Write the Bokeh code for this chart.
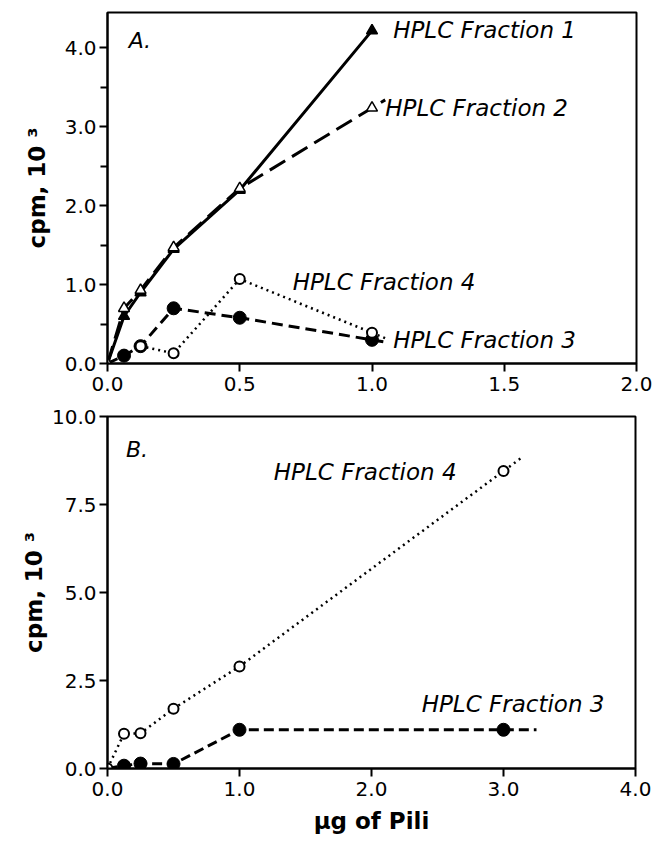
from bokeh.plotting import figure
from bokeh.layouts import column
from bokeh.models import FixedTicker, NumeralTickFormatter, Range1d
from bokeh.core.properties import value
from bokeh.embed import file_html
from bokeh.resources import INLINE

# ---- Panel A data ----
a_f1_x = [0.0, 0.0625, 0.125, 0.25, 0.5, 1.0]
a_f1_y = [0.0, 0.60, 0.90, 1.45, 2.20, 4.22]
a_f2_x = [0.0, 0.0625, 0.125, 0.25, 0.5, 1.0]
a_f2_y = [0.0, 0.70, 0.93, 1.47, 2.22, 3.24]
a_f3_x = [0.0, 0.0625, 0.125, 0.25, 0.5, 1.0]
a_f3_y = [0.0, 0.10, 0.22, 0.70, 0.58, 0.30]
a_f4_x = [0.125, 0.25, 0.5, 1.0]
a_f4_y = [0.22, 0.13, 1.07, 0.39]

# ---- Panel B data ----
b_f4_x = [0.0, 0.125, 0.25, 0.5, 1.0, 3.0]
b_f4_y = [0.0, 0.99, 1.0, 1.70, 2.90, 8.45]
b_f3_x = [0.0, 0.125, 0.25, 0.5, 1.0, 3.0]
b_f3_y = [0.0, 0.08, 0.14, 0.13, 1.10, 1.10]

a_xticks = [0.0, 0.5, 1.0, 1.5, 2.0]
a_yticks = [0.0, 1.0, 2.0, 3.0, 4.0]
a_yminor = [0.5, 1.5, 2.5, 3.5]
b_xticks = [0.0, 1.0, 2.0, 3.0, 4.0]
b_yticks = [0.0, 2.5, 5.0, 7.5, 10.0]

a_labels = ["HPLC Fraction 1", "HPLC Fraction 2", "HPLC Fraction 4", "HPLC Fraction 3"]
a_label_x = [1.08, 1.05, 0.70, 1.08]
a_label_y = [4.23, 3.24, 1.03, 0.30]
b_labels = ["HPLC Fraction 4", "HPLC Fraction 3"]
b_label_x = [1.26, 2.38]
b_label_y = [8.41, 1.82]

TICK_FONT = "DejaVu Sans"
LABEL_FONT = "DejaVu Sans"


def extend(xs, ys, dx):
    # short leader continuing the last segment
    slope = (ys[-1] - ys[-2]) / (xs[-1] - xs[-2])
    return xs + [xs[-1] + dx], ys + [ys[-1] + slope * dx]


def style(p, xticks, yticks, yminor=None, ylabel="cpm, 10 ³", xlabel=None, ystandoff=10):
    p.outline_line_color = "black"
    p.outline_line_width = 2
    p.xgrid.visible = False
    p.ygrid.visible = False
    p.background_fill_color = "white"
    p.border_fill_color = "white"
    p.xaxis.ticker = FixedTicker(ticks=xticks)
    p.yaxis.ticker = FixedTicker(ticks=yticks, minor_ticks=yminor or [])
    for ax in (p.xaxis[0], p.yaxis[0]):
        ax.formatter = NumeralTickFormatter(format="0.0")
        ax.axis_line_width = 2
        ax.major_tick_line_width = 2
        ax.minor_tick_line_width = 2
        ax.major_tick_out = 8
        ax.major_tick_in = 0
        ax.minor_tick_out = 7
        ax.minor_tick_in = 0
        ax.major_label_text_font = TICK_FONT
        ax.major_label_text_font_size = "20px"
        ax.major_label_text_color = "black"
        ax.axis_label_text_font = TICK_FONT
        ax.axis_label_text_font_size = "23px"
        ax.axis_label_text_font_style = "bold"
        ax.axis_label_text_color = "black"
    p.xaxis.major_label_standoff = 5
    p.yaxis.major_label_standoff = 3
    p.xaxis.minor_tick_line_color = None
    if not yminor:
        p.yaxis.minor_tick_line_color = None
    p.yaxis.axis_label = ylabel
    p.yaxis.axis_label_standoff = ystandoff
    if xlabel:
        p.xaxis.axis_label = xlabel
        p.xaxis.axis_label_standoff = 9


# ---------------- Panel A ----------------
pa = figure(frame_width=529, frame_height=351, x_range=Range1d(0, 2.0), y_range=Range1d(0, 4.45),
            output_backend="svg", toolbar_location=None,
            min_border_left=107, min_border_right=18, min_border_top=12, min_border_bottom=37)
style(pa, a_xticks, a_yticks, a_yminor, ystandoff=12)

pa.line(a_f1_x, a_f1_y, line_color="black", line_width=3)
x2, y2 = extend(a_f2_x, a_f2_y, 0.05)
pa.line(x2, y2, line_color="black", line_width=3, line_dash="18 8")
x3, y3 = extend(a_f3_x, a_f3_y, 0.05)
pa.line(x3, y3, line_color="black", line_width=3, line_dash="11 6")
x4, y4 = extend(a_f4_x, a_f4_y, 0.05)
pa.line(x4, y4, line_color="black", line_width=2.5, line_dash="2 4")

pa.scatter(a_f1_x, a_f1_y, marker="triangle", size=11, fill_color="black", line_color="black", line_width=1.5)
pa.scatter(a_f2_x, a_f2_y, marker="triangle", size=11, fill_color="white", line_color="black", line_width=1.5)
pa.scatter(a_f3_x[1:], a_f3_y[1:], marker="circle", size=13, fill_color="black", line_color="black")
pa.scatter(a_f4_x, a_f4_y, marker="circle", size=10, fill_color="white", line_color="black", line_width=2)

pa.text(a_label_x, a_label_y, text=a_labels, text_font=value(LABEL_FONT), text_font_style="italic",
        text_font_size="23px", text_baseline="middle", text_align="left", text_color="black")
pa.text([0.08], [4.09], text=["A."], text_font=value(LABEL_FONT), text_font_style="italic",
        text_font_size="22px", text_baseline="middle", text_align="left", text_color="black")

# ---------------- Panel B ----------------
pb = figure(frame_width=528, frame_height=352, x_range=Range1d(0, 4.0), y_range=Range1d(0, 10.0),
            output_backend="svg", toolbar_location=None,
            min_border_left=107, min_border_right=19, min_border_top=16, min_border_bottom=62)
style(pb, b_xticks, b_yticks, None, xlabel="μg of Pili", ystandoff=2)

bx4, by4 = extend(b_f4_x, b_f4_y, 0.13)
pb.line(bx4, by4, line_color="black", line_width=2.5, line_dash="2 4")
bx3, by3 = extend(b_f3_x, b_f3_y, 0.25)
pb.line(bx3, by3, line_color="black", line_width=3, line_dash="10 5")
pb.scatter(b_f4_x, b_f4_y, marker="circle", size=10, fill_color="white", line_color="black", line_width=2)
pb.scatter(b_f3_x[1:], b_f3_y[1:], marker="circle", size=13, fill_color="black", line_color="black")

pb.text(b_label_x, b_label_y, text=b_labels, text_font=value(LABEL_FONT), text_font_style="italic",
        text_font_size="23px", text_baseline="middle", text_align="left", text_color="black")
pb.text([0.14], [9.06], text=["B."], text_font=value(LABEL_FONT), text_font_style="italic",
        text_font_size="22px", text_baseline="middle", text_align="left", text_color="black")

layout = column(pa, pb, spacing=0)
open("out.html", "w").write(file_html(layout, INLINE))
